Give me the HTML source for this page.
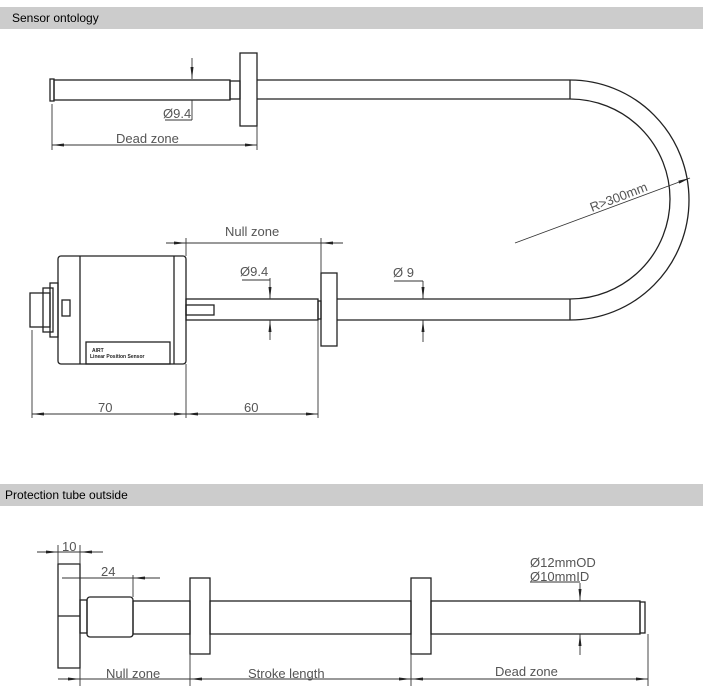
<!DOCTYPE html>
<html><head><style>
body{margin:0;background:#fff;width:703px;height:693px;overflow:hidden;}
svg{display:block}
text{font-family:"Liberation Sans",sans-serif;}
</style></head><body>
<svg width="703" height="693" viewBox="0 0 703 693" xmlns="http://www.w3.org/2000/svg">
<defs>
<marker id="a" markerWidth="12" markerHeight="6" refX="12" refY="3" orient="auto-start-reverse" markerUnits="userSpaceOnUse"><path d="M0,1.5 L12,3 L0,4.5 Z" fill="#222"/></marker>
</defs>
<rect x="0" y="7" width="703" height="22" fill="#cccccc"/>
<text x="12" y="22" font-size="12" fill="#000">Sensor ontology</text>
<rect x="0" y="484" width="703" height="22" fill="#cccccc"/>
<text x="5" y="499" font-size="12" fill="#000">Protection tube outside</text>

<g fill="none" stroke="#222" stroke-width="1.3">
<!-- top tube -->
<rect x="50" y="79" width="4" height="22"/>
<rect x="54" y="80" width="176" height="20"/>
<rect x="230" y="81" width="10" height="18"/>
<rect x="240" y="53" width="17" height="73"/>
<line x1="257" y1="80" x2="570" y2="80"/><line x1="257" y1="99" x2="570" y2="99"/>
<line x1="570" y1="80" x2="570" y2="99"/>
<path d="M570,80 A119,120 0 0 1 570,320"/>
<path d="M570,99 A100,100 0 0 1 570,299"/>
<line x1="570" y1="299" x2="570" y2="320"/>
<line x1="337" y1="299" x2="570" y2="299"/><line x1="337" y1="320" x2="570" y2="320"/>
<!-- sensor body -->
<rect x="58" y="256" width="128" height="108" rx="3"/>
<line x1="80" y1="256" x2="80" y2="364"/><line x1="174" y1="256" x2="174" y2="364"/>
<rect x="62" y="300" width="8" height="16"/>
<rect x="30" y="293" width="20" height="34"/>
<rect x="43" y="288" width="10" height="44"/>
<rect x="50" y="283" width="8" height="54"/>
<rect x="86" y="342" width="84" height="22"/>
<rect x="186" y="299" width="132" height="21"/>
<rect x="186" y="305" width="28" height="10"/>
<rect x="318" y="301" width="3" height="18"/>
<rect x="321" y="273" width="16" height="73"/>
<!-- bottom -->
<path d="M58,564 L80,564 L80,616 L58,616 Z M58,616 L80,616 L80,668 L58,668 Z"/>
<rect x="80" y="600" width="7" height="33"/>
<rect x="87" y="597" width="46" height="40" rx="3"/>
<rect x="133" y="601" width="57" height="33"/>
<rect x="190" y="578" width="20" height="76"/>
<rect x="210" y="601" width="201" height="33"/>
<rect x="411" y="578" width="20" height="76"/>
<rect x="431" y="601" width="209" height="33"/>
<rect x="640" y="602" width="5" height="31"/>
</g>

<g stroke="#333" stroke-width="0.9" fill="none">
<!-- top dims -->
<line x1="52" y1="104" x2="52" y2="150"/><line x1="257" y1="126" x2="257" y2="150"/>
<line x1="52" y1="145" x2="257" y2="145" marker-start="url(#a)" marker-end="url(#a)"/>
<line x1="192" y1="58" x2="192" y2="79" marker-end="url(#a)"/>
<line x1="192" y1="100" x2="192" y2="120"/><line x1="165" y1="120" x2="192" y2="120"/>
<line x1="515" y1="243" x2="690" y2="178" marker-end="url(#a)"/>
<!-- sensor dims -->
<line x1="32" y1="330" x2="32" y2="418"/><line x1="186" y1="364" x2="186" y2="418"/><line x1="318" y1="320" x2="318" y2="418"/>
<line x1="32" y1="414" x2="186" y2="414" marker-start="url(#a)" marker-end="url(#a)"/>
<line x1="186" y1="414" x2="318" y2="414" marker-start="url(#a)" marker-end="url(#a)"/>
<line x1="186" y1="238" x2="186" y2="256"/><line x1="321" y1="238" x2="321" y2="273"/>
<line x1="166" y1="243" x2="186" y2="243" marker-end="url(#a)"/>
<line x1="343" y1="243" x2="321" y2="243" marker-end="url(#a)"/>
<line x1="186" y1="243" x2="321" y2="243"/>
<line x1="270" y1="278" x2="270" y2="299" marker-end="url(#a)"/>
<line x1="270" y1="340" x2="270" y2="320" marker-end="url(#a)"/>
<line x1="242" y1="280" x2="270" y2="280"/>
<line x1="423" y1="281" x2="423" y2="299" marker-end="url(#a)"/>
<line x1="423" y1="342" x2="423" y2="320" marker-end="url(#a)"/>
<line x1="394" y1="281" x2="423" y2="281"/>
<!-- bottom dims -->
<line x1="58" y1="545" x2="58" y2="564"/><line x1="80" y1="545" x2="80" y2="564"/>
<line x1="37" y1="552" x2="58" y2="552" marker-end="url(#a)"/>
<line x1="103" y1="552" x2="80" y2="552" marker-end="url(#a)"/>
<line x1="58" y1="552" x2="80" y2="552"/>
<line x1="62" y1="578" x2="133" y2="578"/><line x1="133" y1="575" x2="133" y2="597"/>
<line x1="160" y1="578" x2="133" y2="578" marker-end="url(#a)"/>
<line x1="80" y1="668" x2="80" y2="686"/><line x1="190" y1="654" x2="190" y2="686"/><line x1="411" y1="654" x2="411" y2="686"/><line x1="648" y1="634" x2="648" y2="686"/>
<line x1="58" y1="679" x2="80" y2="679" marker-end="url(#a)"/>
<line x1="80" y1="679" x2="190" y2="679"/>
<line x1="190" y1="679" x2="411" y2="679" marker-start="url(#a)" marker-end="url(#a)"/>
<line x1="411" y1="679" x2="648" y2="679" marker-start="url(#a)" marker-end="url(#a)"/>
<line x1="580" y1="583" x2="580" y2="601" marker-end="url(#a)"/>
<line x1="580" y1="655" x2="580" y2="634" marker-end="url(#a)"/>
<line x1="530" y1="582" x2="580" y2="582"/>
</g>

<g font-size="13" fill="#555">
<text x="116" y="143">Dead zone</text>
<text x="163" y="118">Ø9.4</text>
<text x="225" y="236">Null zone</text>
<text x="240" y="276">Ø9.4</text>
<text x="393" y="277">Ø 9</text>
<text x="98" y="412">70</text>
<text x="244" y="412">60</text>
<text x="592" y="212" transform="rotate(-21 592 212)">R&gt;300mm</text>
<text x="62" y="551">10</text>
<text x="101" y="576">24</text>
<text x="530" y="567">Ø12mmOD</text>
<text x="530" y="581">Ø10mmID</text>
<text x="106" y="678">Null zone</text>
<text x="248" y="678">Stroke length</text>
<text x="495" y="676">Dead zone</text>
</g>
<g font-size="5" fill="#222" font-weight="bold"><text x="92" y="352">AIRT</text><text x="90" y="358">Linear Position Sensor</text></g>
</svg>
</body></html>
